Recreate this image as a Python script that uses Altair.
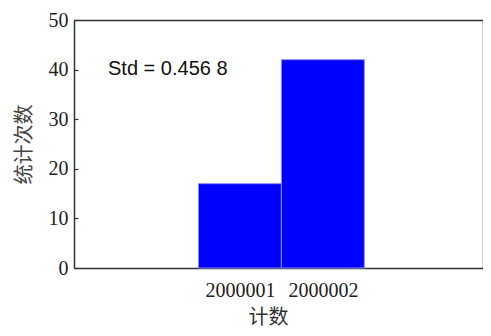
import altair as alt
import pandas as pd

categories = [2000001, 2000002]
counts = [17, 42]
y_ticks = [0, 10, 20, 30, 40, 50]
std_label = "Std = 0.456 8"

half = 0.5
df = pd.DataFrame({
    "cat": categories,
    "start": [c - half for c in categories],
    "end": [c + half for c in categories],
    "count": counts,
    "base": [0, 0],
})

W, H = 409, 248
FRAME = "#333333"
x_domain = [categories[0] - 2, categories[-1] + 1.93]
xs = alt.Scale(domain=x_domain, nice=False, zero=False, padding=0)
ys = alt.Scale(domain=[0, 50], nice=False, padding=0)

bars = alt.Chart(df).mark_bar(
    color="#0000FF", stroke="#8C8CFF", strokeWidth=1, orient="vertical"
).encode(
    x=alt.X("start:Q", scale=xs, axis=alt.Axis(
        orient="bottom", values=categories, format="d", title="计数", ticks=False,
        domain=True, domainColor=FRAME, domainWidth=1.5, grid=False,
        labelFont="Liberation Serif", labelFontSize=20, labelColor="#222", labelPadding=12,
        titleFont="Noto Sans CJK SC", titleFontSize=20, titleFontWeight="normal",
        titleColor="#333", titlePadding=7, titleX=194)),
    x2="end:Q",
    y=alt.Y("count:Q", scale=ys, axis=alt.Axis(
        values=y_ticks, title="统计次数", ticks=False,
        domain=True, domainColor=FRAME, domainWidth=1.5, grid=False,
        labelFont="Liberation Serif", labelFontSize=20, labelColor="#222", labelPadding=6,
        titleFont="Noto Sans CJK SC", titleFontSize=20, titleFontWeight="normal",
        titleColor="#444", titlePadding=14, orient="left")),
    y2="base:Q",
)

tick_df = pd.DataFrame({"v": y_ticks})
ticks = alt.Chart(tick_df).mark_point(opacity=0).encode(
    y=alt.Y("v:Q", scale=ys, axis=alt.Axis(
        orient="right", offset=-W, values=y_ticks, labels=False, title=None,
        domain=False, grid=False, tickSize=4, tickColor=FRAME, tickWidth=1.2)),
)

ann_df = pd.DataFrame({"x": [x_domain[0] + 0.41], "y": [39.0], "t": [std_label]})
ann = alt.Chart(ann_df).mark_text(
    align="left", baseline="alphabetic", font="Liberation Sans", fontSize=20, color="#111"
).encode(
    x=alt.X("x:Q", scale=xs, axis=alt.Axis(
        orient="top", labels=False, ticks=False, title=None, grid=False,
        domain=True, domainColor=FRAME, domainWidth=1.5)),
    y=alt.Y("y:Q", scale=ys, axis=alt.Axis(
        orient="right", labels=False, ticks=False, title=None, grid=False,
        domain=True, domainColor=FRAME, domainWidth=1.5)),
    text="t:N",
)

chart = alt.layer(bars, ann, ticks).resolve_scale(x="shared", y="shared").resolve_axis(
    x="independent", y="independent"
).properties(
    width=W, height=H,
    autosize=alt.AutoSizeParams(type="none"),
    padding={"left": 66, "top": 12, "right": 0, "bottom": 60},
).configure_view(stroke=None).configure(background="white")

chart.save("out.html", embed_options={"renderer": "svg", "actions": False})
